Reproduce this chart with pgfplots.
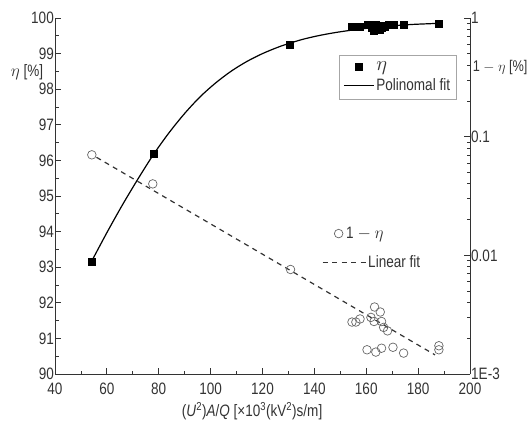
\documentclass[border=0pt]{standalone}
\usepackage{fontspec}
\setmainfont{Liberation Sans}[FakeStretch=0.82]
\usepackage{pgfplots}
\pgfplotsset{compat=1.18}
\definecolor{ax}{HTML}{333333}
\definecolor{circ}{HTML}{666666}
\pgfplotsset{
  legsquare/.style={legend image code/.code={\draw[##1] plot coordinates {(15bp,0bp)};}},
  legline/.style={legend image code/.code={\draw[##1] (0bp,0bp) -- (30bp,0bp);}},
  legcirc/.style={legend image code/.code={\draw[##1] plot coordinates {(16bp,0bp)};}},
  legdash/.style={legend image code/.code={\draw[##1] (0bp,0bp) -- (43bp,0bp);}},
  base/.style={
    scale only axis, width=415bp, height=356bp,
    xmin=40, xmax=200, clip=false,
    tick align=inside,
    axis line style={ax, line width=1bp, -},
    tick style={ax, line width=0.8bp},
    major tick length=6bp, minor tick length=3.5bp,
    ticklabel style={font=\fontsize{16.5bp}{19bp}\selectfont, text=ax},
    /pgf/number format/assume math mode=true,
    legend cell align=left,
    legend style={font=\fontsize{16.5bp}{19bp}\selectfont, text=ax},
  }
}

\begin{document}
\fontsize{16.5bp}{19bp}\selectfont
\begin{tikzpicture}
\useasboundingbox (-55bp,-50bp) rectangle (472bp,374bp);
\begin{axis}[base,
  axis x line*=bottom, axis y line*=left,
  ymin=90, ymax=100,
  ytick={90,91,...,100}, minor y tick num=1,
  xtick={40,60,...,200}, minor x tick num=1,
  yticklabel style={inner xsep=1bp},
  xticklabel style={yshift=-3bp},
  legend style={at={(0.684,0.896)}, anchor=north west, draw=gray!70, line width=0.6bp,
    inner xsep=4bp, inner ysep=4bp, row sep=2bp},
]
\addplot[only marks, mark=square*, mark size=3.5bp, black, legsquare]
  coordinates {
  (54,93.15) (78,96.2) (130.5,99.25) (154.5,99.75) (156,99.75) (157.5,99.75)
  (160.5,99.8) (162,99.72) (163,99.65) (163.5,99.8) (164,99.7) (165,99.68)
  (165.5,99.78) (166,99.72) (167,99.76) (168.5,99.8) (170.5,99.8) (174.5,99.82)
  (188,99.83)};
\addlegendentry{\fontsize{19bp}{20bp}\selectfont$\eta$}
\addplot[black, line width=1.2bp, smooth, legline]
  coordinates {
  (54,93.15) (60,93.97) (66,94.75) (72,95.48) (78,96.17) (84,96.78) (90,97.32)
  (96,97.79) (102,98.18) (108,98.51) (114,98.78) (120,99.00) (126,99.18)
  (130.4,99.29) (136,99.41) (142,99.51) (148,99.59) (154,99.655) (160,99.71)
  (166,99.755) (172,99.79) (178,99.82) (188,99.85)};
\addlegendentry{Polinomal fit}
\node[text=ax] at (axis description cs:-0.0675,0.848) {$\eta$ [\%]};
\node[text=ax] at (axis description cs:0.475,-0.105)
  {(\textit{U}\textsuperscript{2})\textit{A}/\textit{Q} [×10\textsuperscript{3}(kV\textsuperscript{2})s/m]};
\end{axis}

\begin{axis}[base,
  axis x line=none, axis y line*=right,
  ymode=log, ymin=1e-3, ymax=1,
  ytick={0.001,0.01,0.1,1}, yticklabels={1E-3,0.01,0.1,1},
  minor ytick={0.002,0.003,0.004,0.005,0.006,0.007,0.008,0.009,
    0.02,0.03,0.04,0.05,0.06,0.07,0.08,0.09,
    0.2,0.3,0.4,0.5,0.6,0.7,0.8,0.9},
  yticklabel style={inner xsep=1bp},
  legend style={at={(0.643,0.42)}, anchor=north west, draw=none, fill=none,
    inner sep=0bp, row sep=11bp},
]
\addplot[only marks, mark=o, mark size=4.3bp, circ, line width=0.7bp, legcirc]
  coordinates {
  (54.2,0.0703) (77.7,0.040) (130.8,0.0076)
  (154.5,0.00274) (156,0.00274) (157.6,0.00291) (161.8,0.0030) (163,0.00277)
  (163.2,0.00367) (165.4,0.00333) (165.9,0.00277) (166.7,0.00247) (168.2,0.00231)
  (160.3,0.0016) (163.7,0.00153) (165.9,0.00165) (170.3,0.00168) (174.4,0.0015)
  (188,0.00173) (188,0.0016)};
\addlegendentry{\hspace{-22bp}1 $-$ $\eta$}
\addplot[ax, line width=1.2bp, dash pattern=on 5bp off 4.5bp, legdash]
  coordinates {(56,0.0670) (186.5,0.00145)};
\addlegendentry{Linear fit}
\node[text=ax, anchor=west, inner xsep=1bp, font=\fontsize{15.5bp}{18bp}\selectfont]
  at (axis description cs:1.004,0.86) {1 $-$ $\eta$ [\%]};
\end{axis}
\end{tikzpicture}
\end{document}
